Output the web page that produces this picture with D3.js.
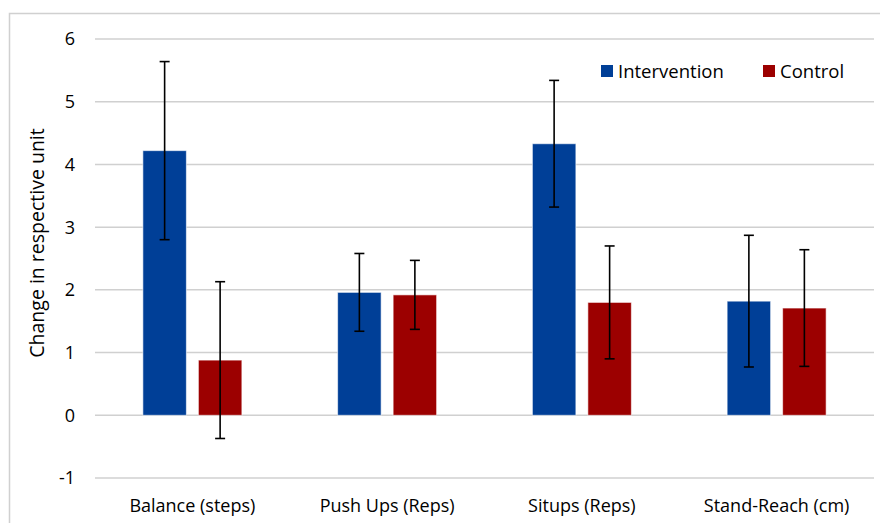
<!DOCTYPE html>
<html>
<head>
<meta charset="utf-8">
<script src="https://cdn.jsdelivr.net/npm/d3@7"></script>
<style>
  body { margin: 0; background: #fff; }
  svg { display: block; font-family: "Open Sans", "Noto Sans", sans-serif; }
</style>
</head>
<body>
<svg id="chart" width="880" height="523"></svg>
<script>
// data
var categories = ["Balance (steps)", "Push Ups (Reps)", "Situps (Reps)", "Stand-Reach (cm)"];
var seriesNames = ["Intervention", "Control"];
var intervention = [4.22, 1.96, 4.33, 1.82];
var interventionErr = [1.42, 0.62, 1.01, 1.05];
var control = [0.88, 1.92, 1.80, 1.71];
var controlErr = [1.25, 0.55, 0.90, 0.93];
var yTicks = [-1, 0, 1, 2, 3, 4, 5, 6];

var colors = { Intervention: "#003f97", Control: "#9c0000" };

var width = 880, height = 523;
var margin = { left: 95, right: 6, top: 39, bottom: 45 };

var svg = d3.select("#chart");

// outer chart border (left + top visible)
svg.append("path")
  .attr("d", "M9.5," + height + "V13.5H" + width)
  .attr("fill", "none")
  .attr("stroke", "#d0d0d0")
  .attr("stroke-width", 1.5);

var x0 = d3.scaleBand()
  .domain(categories)
  .range([margin.left, width - margin.right]);

var y = d3.scaleLinear()
  .domain([-1, 6])
  .range([height - margin.bottom, margin.top]);

// gridlines
svg.append("g")
  .selectAll("line")
  .data(yTicks)
  .join("line")
  .attr("x1", margin.left)
  .attr("x2", width - margin.right)
  .attr("y1", d => y(d))
  .attr("y2", d => y(d))
  .attr("stroke", "#d0d0d0")
  .attr("stroke-width", 1.5);

// y tick labels
svg.append("g")
  .selectAll("text")
  .data(yTicks)
  .join("text")
  .attr("x", 75)
  .attr("y", d => y(d))
  .attr("dy", "0.36em")
  .attr("text-anchor", "end")
  .attr("font-size", 18)
  .attr("fill", "#000")
  .text(d => d);

// y axis title
svg.append("text")
  .attr("transform", "translate(44," + 243 + ") rotate(-90)")
  .attr("text-anchor", "middle")
  .attr("font-size", 19.5)
  .attr("fill", "#000")
  .text("Change in respective unit");

// bars
var barW = 43.5, gap = 12;
var rows = categories.map(function (c, i) {
  return [
    { cat: c, name: "Intervention", v: intervention[i], e: interventionErr[i], k: 0 },
    { cat: c, name: "Control", v: control[i], e: controlErr[i], k: 1 }
  ];
}).flat();

function barX(d) {
  var c = x0(d.cat) + x0.bandwidth() / 2;
  return d.k === 0 ? c - gap / 2 - barW : c + gap / 2;
}

svg.append("g")
  .selectAll("rect")
  .data(rows)
  .join("rect")
  .attr("x", barX)
  .attr("width", barW)
  .attr("y", d => y(Math.max(0, d.v)))
  .attr("height", d => Math.abs(y(d.v) - y(0)))
  .attr("fill", d => colors[d.name])
  .attr("stroke", "#ffffff")
  .attr("stroke-opacity", 0.6)
  .attr("stroke-width", 1);

// error bars
var eb = svg.append("g")
  .attr("stroke", "#000")
  .attr("stroke-width", 1.6)
  .selectAll("g")
  .data(rows)
  .join("g");

eb.append("line")
  .attr("x1", d => barX(d) + barW / 2)
  .attr("x2", d => barX(d) + barW / 2)
  .attr("y1", d => y(d.v + d.e))
  .attr("y2", d => y(d.v - d.e));

[1, -1].forEach(function (s) {
  eb.append("line")
    .attr("x1", d => barX(d) + barW / 2 - 5)
    .attr("x2", d => barX(d) + barW / 2 + 5)
    .attr("y1", d => y(d.v + s * d.e))
    .attr("y2", d => y(d.v + s * d.e));
});

// category labels
svg.append("g")
  .selectAll("text")
  .data(categories)
  .join("text")
  .attr("x", d => x0(d) + x0.bandwidth() / 2)
  .attr("y", 512)
  .attr("text-anchor", "middle")
  .attr("font-size", 18)
  .attr("fill", "#000")
  .text(d => d);

// legend
var legendX = [601, 763];
var lg = svg.append("g")
  .selectAll("g")
  .data(seriesNames)
  .join("g")
  .attr("transform", (d, i) => "translate(" + legendX[i] + ",65)");

lg.append("rect")
  .attr("width", 12)
  .attr("height", 12)
  .attr("fill", d => colors[d]);

lg.append("text")
  .attr("x", 17)
  .attr("y", 12.5)
  .attr("font-size", 18.5)
  .attr("fill", "#000")
  .text(d => d);
</script>
</body>
</html>
